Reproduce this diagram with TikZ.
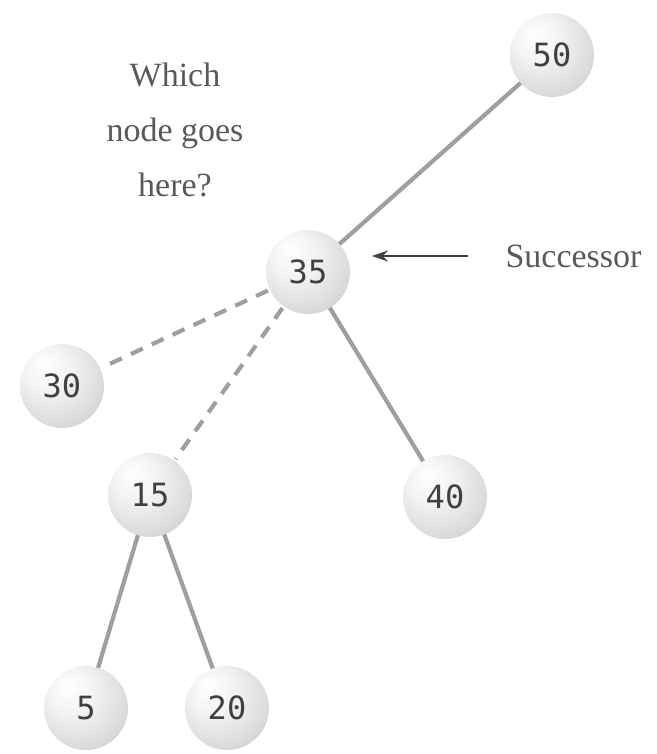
\documentclass[tikz,border=0pt]{standalone}
\usepackage{fontspec}
\setmainfont{Liberation Serif}
\newfontfamily\numfont{DejaVu Sans Mono}
\usetikzlibrary{arrows.meta,backgrounds}
\pgfdeclareradialshading{sph}{\pgfqpoint{-12bp}{14bp}}{color(0bp)=(white); color(14bp)=(gray!10); color(28bp)=(gray!27); color(40bp)=(gray!45); color(50bp)=(gray!58)}
\tikzset{
  ball/.style={circle, minimum size=84pt, inner sep=0pt, shading=sph, text=black!75, font=\numfont\fontsize{32}{32}\selectfont},
  edge/.style={draw=gray!75, line width=4.2pt, shorten <=-4pt, shorten >=-4pt},
  dedge/.style={draw=gray!75, line width=4.2pt, dash pattern=on 13pt off 10pt, shorten <=2pt, shorten >=2pt},
  lbl/.style={text=black!65, font=\fontsize{34}{55}\selectfont, align=center}
}
\begin{document}
\begin{tikzpicture}[x=1pt,y=-1pt]
\useasboundingbox (0,0) rectangle (656,754);
\node[ball] (n50) at (552,55) {50};
\node[ball] (n35) at (308,272) {35};
\node[ball] (n30) at (62,386) {30};
\node[ball] (n15) at (150,495) {15};
\node[ball] (n40) at (445,497) {40};
\node[ball] (n5) at (86,708) {5};
\node[ball] (n20) at (227,708) {20};
\begin{scope}[on background layer]
\draw[edge] (n50) -- (n35);
\draw[edge] (n35) -- (n40);
\draw[edge] (n15) -- (n5);
\draw[edge] (n15) -- (n20);
\draw[dedge] (n35) -- (n30);
\draw[dedge] (n35) -- (n15);
\end{scope}
\node[lbl] (q) at (175,130) {Which\\node goes\\here?};
\node[lbl, anchor=west] (succ) at (502,256) {Successor};
\coordinate (as) at (468,256);
\draw[black!75, line width=1.3pt, -{Stealth[length=16pt,width=11pt]}] (as) -- (372,256);
\end{tikzpicture}
\end{document}
